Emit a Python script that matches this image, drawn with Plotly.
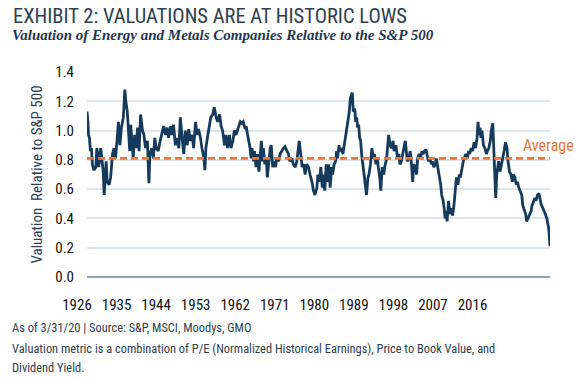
import plotly.graph_objects as go

# ---- data ----
dates = [
    1926.0, 1926.2, 1926.3, 1926.5, 1926.7, 1926.9, 1927.1, 1927.4, 1927.8, 1928.0,
    1928.2, 1928.4, 1928.8, 1929.0, 1929.3, 1929.5, 1929.7, 1929.9, 1930.1, 1930.5,
    1930.8, 1931.2, 1931.5, 1931.8, 1932.2, 1932.4, 1932.7, 1933.0, 1933.4, 1933.7,
    1933.9, 1934.2, 1934.5, 1934.7, 1934.9, 1935.2, 1935.4, 1935.7, 1936.0, 1936.3,
    1936.6, 1936.9, 1937.3, 1937.6, 1937.9, 1938.3, 1938.6, 1938.8, 1939.2, 1939.5,
    1939.8, 1940.1, 1940.5, 1940.9,
    1941.3, 1941.6, 1942.0, 1942.3, 1942.6, 1943.0, 1943.3, 1943.6, 1944.0, 1944.3,
    1944.7, 1945.0, 1945.3, 1945.7, 1946.0, 1946.4, 1946.7, 1947.0, 1947.4, 1947.7,
    1948.1, 1948.4, 1948.7, 1949.1, 1949.4, 1949.8, 1950.0, 1950.2, 1950.6, 1950.9,
    1951.2, 1951.6, 1951.9, 1952.3, 1952.6, 1953.0, 1953.3, 1953.6, 1954.0, 1954.3,
    1954.6, 1955.0, 1955.3, 1955.7, 1956.0, 1956.3, 1956.8, 1957.2,
    1957.5, 1957.8, 1958.2, 1958.4, 1958.7, 1958.9, 1959.2, 1959.4, 1959.6, 1959.9,
    1960.1, 1960.4, 1960.7, 1961.0, 1961.2, 1961.5, 1961.7, 1961.9, 1962.2, 1962.5,
    1962.7, 1963.0, 1963.3, 1963.5, 1963.8, 1964.1, 1964.4, 1964.6, 1965.0, 1965.3,
    1965.6, 1966.0, 1966.3, 1966.7, 1967.0, 1967.3, 1967.7, 1968.0, 1968.4, 1968.7,
    1969.0, 1969.2, 1969.5, 1969.8, 1970.1, 1970.4, 1970.7, 1971.1, 1971.4, 1971.8,
    1972.1, 1972.4, 1972.8,
    1973.0, 1973.3, 1973.6, 1973.9, 1974.1, 1974.4, 1974.7, 1975.0, 1975.2, 1975.5,
    1975.8, 1976.0, 1976.3, 1976.6, 1976.8, 1977.0, 1977.3, 1977.5, 1977.8, 1978.1,
    1978.3, 1978.6, 1978.9, 1979.2, 1979.4, 1979.6, 1979.8, 1980.0, 1980.2, 1980.5,
    1980.7, 1980.9, 1981.1, 1981.3, 1981.5, 1981.7, 1981.9, 1982.1, 1982.4, 1982.7,
    1982.9, 1983.2, 1983.4, 1983.7, 1984.0, 1984.3, 1984.5, 1984.8, 1985.1, 1985.3,
    1985.6, 1985.8, 1986.1, 1986.4, 1986.6, 1987.0, 1987.2, 1987.4, 1987.7, 1988.0,
    1988.3, 1988.5, 1988.9,
    1989.2, 1989.5, 1989.7, 1990.0, 1990.3, 1990.6, 1990.8, 1991.0, 1991.2, 1991.5,
    1991.8, 1992.1, 1992.3, 1992.5, 1992.8, 1993.1, 1993.3, 1993.6, 1993.9, 1994.2,
    1994.4, 1994.7, 1995.0, 1995.2, 1995.5, 1995.8, 1996.1, 1996.3, 1996.6, 1996.9,
    1997.1, 1997.4, 1997.7, 1998.0, 1998.2, 1998.5, 1998.7, 1998.9, 1999.1, 1999.3,
    1999.6, 1999.9, 2000.1, 2000.4, 2000.7, 2000.9, 2001.2, 2001.5, 2001.8, 2002.0,
    2002.3, 2002.6, 2002.8, 2003.1, 2003.4, 2003.7, 2003.9, 2004.2, 2004.5, 2004.8,
    2005.1, 2005.4, 2005.6, 2005.8, 2006.0, 2006.2, 2006.4, 2006.7, 2007.0, 2007.3,
    2007.5, 2007.8, 2008.1, 2008.3, 2008.6, 2008.8, 2009.0, 2009.2, 2009.4, 2009.6,
    2009.8, 2010.1, 2010.4, 2010.7, 2010.9, 2011.2, 2011.5, 2011.7, 2012.0, 2012.3,
    2012.6, 2012.8, 2013.1, 2013.4, 2013.6, 2013.9, 2014.2, 2014.5, 2014.7, 2015.0,
    2015.3, 2015.5, 2015.8, 2016.1, 2016.4, 2016.6, 2016.9, 2017.2, 2017.4, 2017.7,
    2018.0, 2018.3, 2018.5, 2018.8, 2019.1, 2019.3, 2019.6, 2019.8, 2020.0, 2020.25,
]

valuation = [
    1.13, 1.06, 0.97, 0.95, 0.86, 0.88, 0.77, 0.73, 0.75, 0.88,
    0.84, 0.75, 0.88, 0.81, 0.72, 0.56, 0.70, 0.79, 0.65, 0.63,
    0.68, 0.84, 0.88, 0.81, 0.97, 1.06, 0.90, 1.02, 1.09, 1.28,
    1.20, 1.13, 0.97, 0.86, 1.04, 0.90, 0.81, 0.97, 0.88, 1.02,
    0.86, 1.11, 1.00, 0.97, 0.88, 0.93, 0.64, 0.84, 0.88, 0.81,
    0.95, 0.88, 0.86, 0.93,
    1.00, 1.03, 0.97, 1.02, 0.95, 1.03, 0.97, 1.04, 0.90, 0.95,
    0.88, 1.09, 0.97, 0.84, 1.00, 0.90, 1.01, 0.93, 0.97, 0.88,
    1.06, 0.97, 1.01, 0.95, 0.88, 0.81, 0.73, 0.88, 0.97, 1.04,
    1.09, 1.11, 1.16, 1.09, 1.06, 1.11, 1.03, 1.00, 0.90, 0.97,
    0.88, 0.97, 0.88, 0.93, 1.00, 0.97, 1.02, 1.06,
    1.05, 1.06, 1.01, 1.03, 0.97, 0.94, 0.88, 0.81, 0.88, 0.79,
    0.86, 0.75, 0.84, 0.72, 0.84, 0.93, 0.79, 0.88, 0.77, 0.81,
    0.68, 0.79, 0.88, 0.90, 0.75, 0.79, 0.75, 0.81, 0.79, 0.84,
    0.86, 0.88, 0.89, 0.86, 0.84, 0.79, 0.81, 0.77, 0.75, 0.79,
    0.88, 0.93, 0.84, 0.75, 0.77, 0.70, 0.77, 0.75, 0.70, 0.65,
    0.59, 0.56, 0.61,
    0.70, 0.65, 0.75, 0.61, 0.70, 0.59, 0.77, 0.65, 0.77, 0.61,
    0.75, 0.70, 0.77, 0.79, 0.86, 0.81, 0.90, 0.86, 0.87, 0.84,
    0.88, 0.95, 1.02, 1.09, 1.13, 1.22, 1.25, 1.26, 1.13, 1.15,
    1.06, 1.09, 1.02, 1.04, 0.95, 0.93, 0.84, 0.79, 0.70, 0.63,
    0.56, 0.68, 0.70, 0.77, 0.88, 0.81, 0.84, 0.77, 0.81, 0.75,
    0.68, 0.59, 0.75, 0.70, 0.75, 0.81, 0.88, 0.97, 0.90, 0.88,
    0.93, 0.86, 0.90,
    0.81, 0.84, 0.77, 0.79, 0.86, 0.90, 0.93, 0.86, 0.79, 0.81,
    0.86, 0.75, 0.65, 0.77, 0.75, 0.70, 0.81, 0.84, 0.81, 0.86,
    0.84, 0.86, 0.87, 0.84, 0.79, 0.81, 0.77, 0.79, 0.75, 0.77,
    0.81, 0.75, 0.70, 0.63, 0.56, 0.52, 0.47, 0.40, 0.45, 0.38,
    0.52, 0.43, 0.47, 0.42, 0.49, 0.56, 0.68, 0.63, 0.70, 0.68,
    0.75, 0.79, 0.81, 0.84, 0.81, 0.86, 0.84, 0.88, 0.86, 0.92,
    0.88, 0.95, 1.06, 0.97, 1.02, 0.95, 1.00, 0.90, 0.88, 0.84,
    0.86, 0.88, 0.93, 1.00, 1.05, 0.86, 0.75, 0.54, 0.70, 0.75,
    0.79, 0.72, 0.77, 0.81, 0.86, 0.92, 0.88, 0.79, 0.72, 0.70,
    0.65, 0.70, 0.68, 0.63, 0.65, 0.61, 0.59, 0.56, 0.49, 0.45,
    0.43, 0.38, 0.40, 0.43, 0.45, 0.49, 0.52, 0.54, 0.52, 0.56,
    0.57, 0.52, 0.49, 0.47, 0.45, 0.43, 0.40, 0.36, 0.33, 0.21,
]

average_value = 0.81
average_label = "Average"
year_labels = [1926, 1935, 1944, 1953, 1962, 1971, 1980, 1989, 1998, 2007, 2016]
y_ticks = [0.0, 0.2, 0.4, 0.6, 0.8, 1.0, 1.2, 1.4]

title_text = "EXHIBIT 2: VALUATIONS ARE AT HISTORIC LOWS"
subtitle_text = "Valuation of Energy and Metals Companies Relative to the S&P 500"
y_title = "Valuation  Relative to S&P 500"
footer_lines = [
    "As of 3/31/20 | Source: S&P, MSCI, Moodys, GMO",
    "Valuation metric is a combination of P/E (Normalized Historical Earnings), Price to Book Value, and",
    "Dividend Yield.",
]

# ---- styling / layout constants ----
W, H = 587, 379
L, R, T, B = 40, 20, 72, 102
PW = W - L - R
PH = H - T - B
NARROW = "Liberation Sans Narrow, Roboto Condensed, Arial Narrow, DejaVu Sans Condensed, sans-serif"
NAVY = "#163a5c"
ORANGE = "#e8773a"
SLATE = "#2e3e4e"

def px_x(p):
    return (p - L) / PW

def px_y(p):
    return (H - B - p) / PH

plot_left, plot_right = 87, 550
label_first_px, label_step_px = 77, 39.55
px_per_year = label_step_px / (year_labels[1] - year_labels[0])
lab_a = year_labels[0] - (label_first_px - L) / px_per_year
lab_b = lab_a + PW / px_per_year

fig = go.Figure()

fig.add_trace(go.Scatter(
    x=dates, y=valuation, mode="lines",
    line=dict(color=NAVY, width=2.8), hoverinfo="skip", showlegend=False,
    xaxis="x", yaxis="y",
))

fig.add_trace(go.Scatter(
    x=[dates[0], dates[-1]], y=[average_value, average_value], mode="lines",
    line=dict(color=ORANGE, width=2.6, dash="7px,4px"), hoverinfo="skip", showlegend=False,
    xaxis="x", yaxis="y",
))

# carrier for the year labels axis
fig.add_trace(go.Scatter(
    x=year_labels, y=[None] * len(year_labels), mode="markers",
    marker=dict(opacity=0), hoverinfo="skip", showlegend=False,
    xaxis="x2", yaxis="y2",
))

fig.update_layout(
    width=W, height=H,
    margin=dict(l=L, r=R, t=T, b=B, pad=0),
    paper_bgcolor="white", plot_bgcolor="rgba(0,0,0,0)",
    showlegend=False,
    xaxis=dict(
        domain=[px_x(plot_left), px_x(plot_right)],
        range=[dates[0], dates[-1]],
        showticklabels=False, showgrid=False, zeroline=False, showline=False,
        ticks="", anchor="y",
    ),
    yaxis=dict(
        domain=[0, 1], anchor="x",
        range=[0, 1.4], tickvals=y_ticks, tickformat=".1f",
        showgrid=True, gridcolor="#dde6ee", gridwidth=1.5,
        zeroline=True, zerolinecolor="#8ea4b8", zerolinewidth=2,
        showline=False,
        ticks="outside", ticklen=9, tickcolor="rgba(0,0,0,0)",
        tickfont=dict(family=NARROW, size=15, color="#111111"),
        title=dict(text=y_title, font=dict(family=NARROW, size=15, color=SLATE), standoff=8),
    ),
    xaxis2=dict(
        domain=[0, 1], anchor="y2",
        range=[lab_a, lab_b],
        tickvals=year_labels, ticktext=[str(y) for y in year_labels],
        showgrid=False, zeroline=False, showline=False,
        ticks="outside", ticklen=14, tickcolor="rgba(0,0,0,0)",
        tickfont=dict(family=NARROW, size=15, color="#111111"),
    ),
    yaxis2=dict(
        domain=[0, 1], anchor="x2", range=[0, 1],
        showgrid=False, zeroline=False, showline=False, showticklabels=False, ticks="",
    ),
)

annotations = [
    dict(text=title_text, xref="paper", yref="paper", x=px_x(11), y=px_y(16.5),
         xanchor="left", yanchor="middle", showarrow=False,
         font=dict(family=NARROW, size=20.5, color=SLATE)),
    dict(text=subtitle_text, xref="paper", yref="paper", x=px_x(10), y=px_y(35),
         xanchor="left", yanchor="middle", showarrow=False,
         font=dict(family="Liberation Serif, DejaVu Serif, serif", size=15,
                   color="#1f3550", weight="bold", style="italic")),
    dict(text=average_label, xref="paper", yref="y", x=px_x(520.5), y=average_value,
         xanchor="left", yanchor="middle", yshift=13, showarrow=False,
         font=dict(family=NARROW, size=16, color=ORANGE)),
]
for line, yc in zip(footer_lines, [327, 348, 367]):
    annotations.append(dict(text=line, xref="paper", yref="paper", x=px_x(10), y=px_y(yc),
                            xanchor="left", yanchor="middle", showarrow=False,
                            font=dict(family=NARROW, size=12.4, color=SLATE)))
fig.update_layout(annotations=annotations)

fig.write_html("out.html", config={"displayModeBar": False},
               post_script="document.body.style.margin='0';")
